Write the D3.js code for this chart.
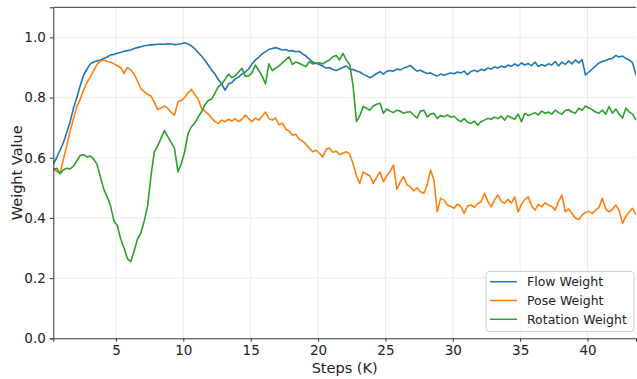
<!DOCTYPE html>
<html lang="en">
<head>
    <meta charset="UTF-8">
    <title>Weight Values</title>
    <script src="https://d3js.org/d3.v7.min.js"></script>
    <style>
        body { margin: 0; background: white; }
        svg { display: block; font-family: 'DejaVu Sans', sans-serif; }
        .tick text { font-size: 13.5px; fill: #222; }
        .axis-label { font-size: 14.5px; fill: #222; text-anchor: middle; }
        .legend text { font-size: 12.5px; fill: #222; }
    </style>
</head>
<body>
<svg width="637" height="379"></svg>
<script>
    // steps in K, every 250 steps
    const steps = d3.range(174).map(i => 0.35 + i * 0.25);

    const flowWeight = [
        0.58, 0.60, 0.625, 0.65, 0.685, 0.72, 0.765, 0.80, 0.84, 0.875,
        0.895, 0.912, 0.918, 0.922, 0.925, 0.93, 0.935, 0.942, 0.943, 0.947,
        0.95, 0.954, 0.956, 0.958, 0.963, 0.966, 0.969, 0.972, 0.974, 0.975,
        0.976, 0.977, 0.978, 0.977, 0.979, 0.978, 0.976, 0.977, 0.979, 0.982,
        0.978, 0.972, 0.962, 0.95, 0.938, 0.924, 0.908, 0.892, 0.878, 0.86,
        0.845, 0.825, 0.845, 0.85, 0.862, 0.868, 0.878, 0.885, 0.895, 0.912,
        0.925, 0.934, 0.945, 0.952, 0.96, 0.963, 0.966, 0.962, 0.958, 0.96,
        0.955, 0.956, 0.952, 0.954, 0.945, 0.938, 0.928, 0.918, 0.914, 0.91,
        0.905, 0.898, 0.90, 0.893, 0.89, 0.895, 0.90, 0.905, 0.895, 0.893,
        0.888, 0.885, 0.878, 0.872, 0.866, 0.872, 0.88, 0.886, 0.878, 0.887,
        0.89, 0.888, 0.895, 0.892, 0.898, 0.902, 0.907, 0.896, 0.888, 0.891,
        0.885, 0.88, 0.882, 0.876, 0.872, 0.878, 0.874, 0.878, 0.882, 0.879,
        0.885, 0.882, 0.888, 0.876, 0.887, 0.891, 0.886, 0.894, 0.89, 0.898,
        0.895, 0.902, 0.898, 0.905, 0.90, 0.908, 0.904, 0.912, 0.905, 0.915,
        0.908, 0.913, 0.906, 0.918, 0.903, 0.91, 0.905, 0.912, 0.908, 0.92,
        0.905, 0.918, 0.91, 0.922, 0.912, 0.925, 0.915, 0.926, 0.875, 0.885,
        0.895, 0.905, 0.915, 0.92, 0.923, 0.928, 0.93, 0.94, 0.935, 0.938,
        0.93, 0.925, 0.915, 0.875
    ];

    const poseWeight = [
        0.565, 0.555, 0.548, 0.595, 0.64, 0.69, 0.73, 0.77, 0.795, 0.825,
        0.85, 0.868, 0.89, 0.91, 0.922, 0.925, 0.92, 0.918, 0.912, 0.906,
        0.90, 0.88, 0.90, 0.892, 0.878, 0.855, 0.83, 0.82, 0.81, 0.805,
        0.785, 0.76, 0.765, 0.772, 0.764, 0.75, 0.742, 0.786, 0.79, 0.80,
        0.815, 0.827, 0.81, 0.795, 0.764, 0.755, 0.745, 0.731, 0.72, 0.714,
        0.725, 0.72, 0.728, 0.722, 0.73, 0.72, 0.728, 0.742, 0.73, 0.72,
        0.732, 0.725, 0.738, 0.752, 0.73, 0.725, 0.732, 0.71, 0.715, 0.695,
        0.688, 0.675, 0.678, 0.662, 0.655, 0.645, 0.632, 0.62, 0.625, 0.615,
        0.603, 0.628, 0.632, 0.618, 0.622, 0.61, 0.615, 0.62, 0.612, 0.58,
        0.54, 0.515, 0.553, 0.545, 0.54, 0.515, 0.535, 0.553, 0.52, 0.54,
        0.555, 0.576, 0.495, 0.52, 0.537, 0.51, 0.504, 0.49, 0.50, 0.487,
        0.482, 0.51, 0.559, 0.526, 0.42, 0.465, 0.46, 0.443, 0.438, 0.432,
        0.446, 0.438, 0.415, 0.44, 0.443, 0.435, 0.448, 0.454, 0.482, 0.455,
        0.437, 0.46, 0.476, 0.455, 0.449, 0.462, 0.45, 0.47, 0.42, 0.445,
        0.462, 0.47, 0.44, 0.426, 0.445, 0.437, 0.45, 0.443, 0.438, 0.426,
        0.455, 0.476, 0.42, 0.43, 0.415, 0.40, 0.395, 0.41, 0.418, 0.422,
        0.415, 0.426, 0.435, 0.465, 0.43, 0.42, 0.428, 0.443, 0.425, 0.382,
        0.405, 0.42, 0.432, 0.41
    ];

    const rotationWeight = [
        0.56, 0.565, 0.547, 0.56, 0.565, 0.563, 0.572, 0.59, 0.608, 0.61,
        0.603, 0.606, 0.595, 0.578, 0.535, 0.495, 0.47, 0.44, 0.39, 0.375,
        0.33, 0.30, 0.265, 0.255, 0.29, 0.33, 0.35, 0.39, 0.44, 0.54,
        0.62, 0.64, 0.665, 0.69, 0.67, 0.65, 0.63, 0.553, 0.58, 0.62,
        0.68, 0.703, 0.715, 0.735, 0.753, 0.775, 0.79, 0.795, 0.815, 0.836,
        0.845, 0.86, 0.878, 0.866, 0.872, 0.885, 0.897, 0.87, 0.872, 0.882,
        0.908, 0.89, 0.872, 0.845, 0.912, 0.89, 0.898, 0.905, 0.915, 0.925,
        0.935, 0.91, 0.918, 0.914, 0.908, 0.903, 0.919, 0.912, 0.914, 0.916,
        0.912, 0.919, 0.925, 0.936, 0.94, 0.925, 0.947, 0.925, 0.91, 0.84,
        0.72, 0.74, 0.77, 0.765, 0.758, 0.772, 0.778, 0.781, 0.748, 0.762,
        0.755, 0.75, 0.758, 0.755, 0.748, 0.752, 0.753, 0.742, 0.732, 0.755,
        0.758, 0.736, 0.745, 0.748, 0.731, 0.74, 0.736, 0.742, 0.735, 0.738,
        0.727, 0.72, 0.73, 0.718, 0.714, 0.722, 0.708, 0.72, 0.725, 0.731,
        0.728, 0.735, 0.73, 0.738, 0.725, 0.74, 0.733, 0.728, 0.745, 0.72,
        0.748, 0.74, 0.745, 0.75, 0.742, 0.755, 0.748, 0.752, 0.745, 0.758,
        0.75, 0.745, 0.757, 0.76, 0.752, 0.748, 0.765, 0.758, 0.772, 0.765,
        0.76, 0.752, 0.748, 0.758, 0.745, 0.77, 0.748, 0.762, 0.745, 0.732,
        0.765, 0.752, 0.745, 0.725
    ];

    const seriesNames = ["Flow Weight", "Pose Weight", "Rotation Weight"];
    const seriesColors = ["#1f77b4", "#ff7f0e", "#2ca02c"];
    const xTicks = [5, 10, 15, 20, 25, 30, 35, 40];
    const yTicks = [0.0, 0.2, 0.4, 0.6, 0.8, 1.0];

    const svg = d3.select("svg");
    const plotL = 53.3, plotT = 7.3, plotR = 636, plotB = 338.3;

    const x = d3.scaleLinear().domain([0.35, 43.6]).range([plotL, plotR]);
    const y = d3.scaleLinear().domain([0, 1.1]).range([plotB, plotT]);

    // grid
    svg.append("g").selectAll("line").data(xTicks).join("line")
        .attr("x1", d => x(d)).attr("x2", d => x(d))
        .attr("y1", plotT).attr("y2", plotB)
        .attr("stroke", "#e6e6e6").attr("stroke-width", 0.8);
    svg.append("g").selectAll("line").data(yTicks.slice(1)).join("line")
        .attr("x1", plotL).attr("x2", plotR)
        .attr("y1", d => y(d)).attr("y2", d => y(d))
        .attr("stroke", "#e6e6e6").attr("stroke-width", 0.8);

    svg.append("clipPath").attr("id", "clip").append("rect")
        .attr("x", plotL).attr("y", plotT).attr("width", plotR - plotL).attr("height", plotB - plotT);

    const allSeries = [flowWeight, poseWeight, rotationWeight];
    const line = d3.line().x((d, i) => x(steps[i])).y(d => y(d));

    svg.append("g").attr("clip-path", "url(#clip)")
        .selectAll("path").data(allSeries).join("path")
        .attr("d", d => line(d))
        .attr("fill", "none")
        .attr("stroke", (d, i) => seriesColors[i])
        .attr("stroke-width", 1.6)
        .attr("stroke-linejoin", "round");

    // axes
    const xAxis = svg.append("g").attr("transform", `translate(0,${plotB})`)
        .call(d3.axisBottom(x).tickValues(xTicks).tickSize(3.5).tickPadding(4).tickFormat(d3.format("d")));
    const yAxis = svg.append("g").attr("transform", `translate(${plotL},0)`)
        .call(d3.axisLeft(y).tickValues(yTicks).tickSize(3.5).tickPadding(4).tickFormat(d3.format(".1f")));
    [xAxis, yAxis].forEach(a => {
        a.select(".domain").attr("stroke", "#333").attr("stroke-width", 1);
        a.selectAll(".tick line").attr("stroke", "#333");
        a.selectAll(".tick text").style("font-family", "'DejaVu Sans', sans-serif");
    });

    // top spine
    svg.append("line").attr("x1", plotL).attr("x2", plotR).attr("y1", plotT).attr("y2", plotT)
        .attr("stroke", "#333").attr("stroke-width", 1);

    svg.append("text").attr("class", "axis-label")
        .attr("x", (plotL + plotR) / 2).attr("y", 373)
        .text("Steps (K)");
    svg.append("text").attr("class", "axis-label")
        .attr("transform", `translate(21.5,${(plotT + plotB) / 2}) rotate(-90)`)
        .text("Weight Value");

    // legend
    const legend = svg.append("g").attr("class", "legend");
    legend.append("rect")
        .attr("x", 486).attr("y", 271.5).attr("width", 148).attr("height", 60)
        .attr("rx", 3).attr("fill", "white").attr("fill-opacity", 0.8)
        .attr("stroke", "#d0d0d0").attr("stroke-width", 1);
    const rows = legend.selectAll("g.row").data(seriesNames).join("g")
        .attr("class", "row")
        .attr("transform", (d, i) => `translate(0,${281.7 + i * 18.8})`);
    rows.append("line").attr("x1", 490).attr("x2", 517)
        .attr("stroke", (d, i) => seriesColors[i]).attr("stroke-width", 1.5);
    rows.append("text").attr("x", 527).attr("dy", "0.35em").text(d => d);
</script>
</body>
</html>
